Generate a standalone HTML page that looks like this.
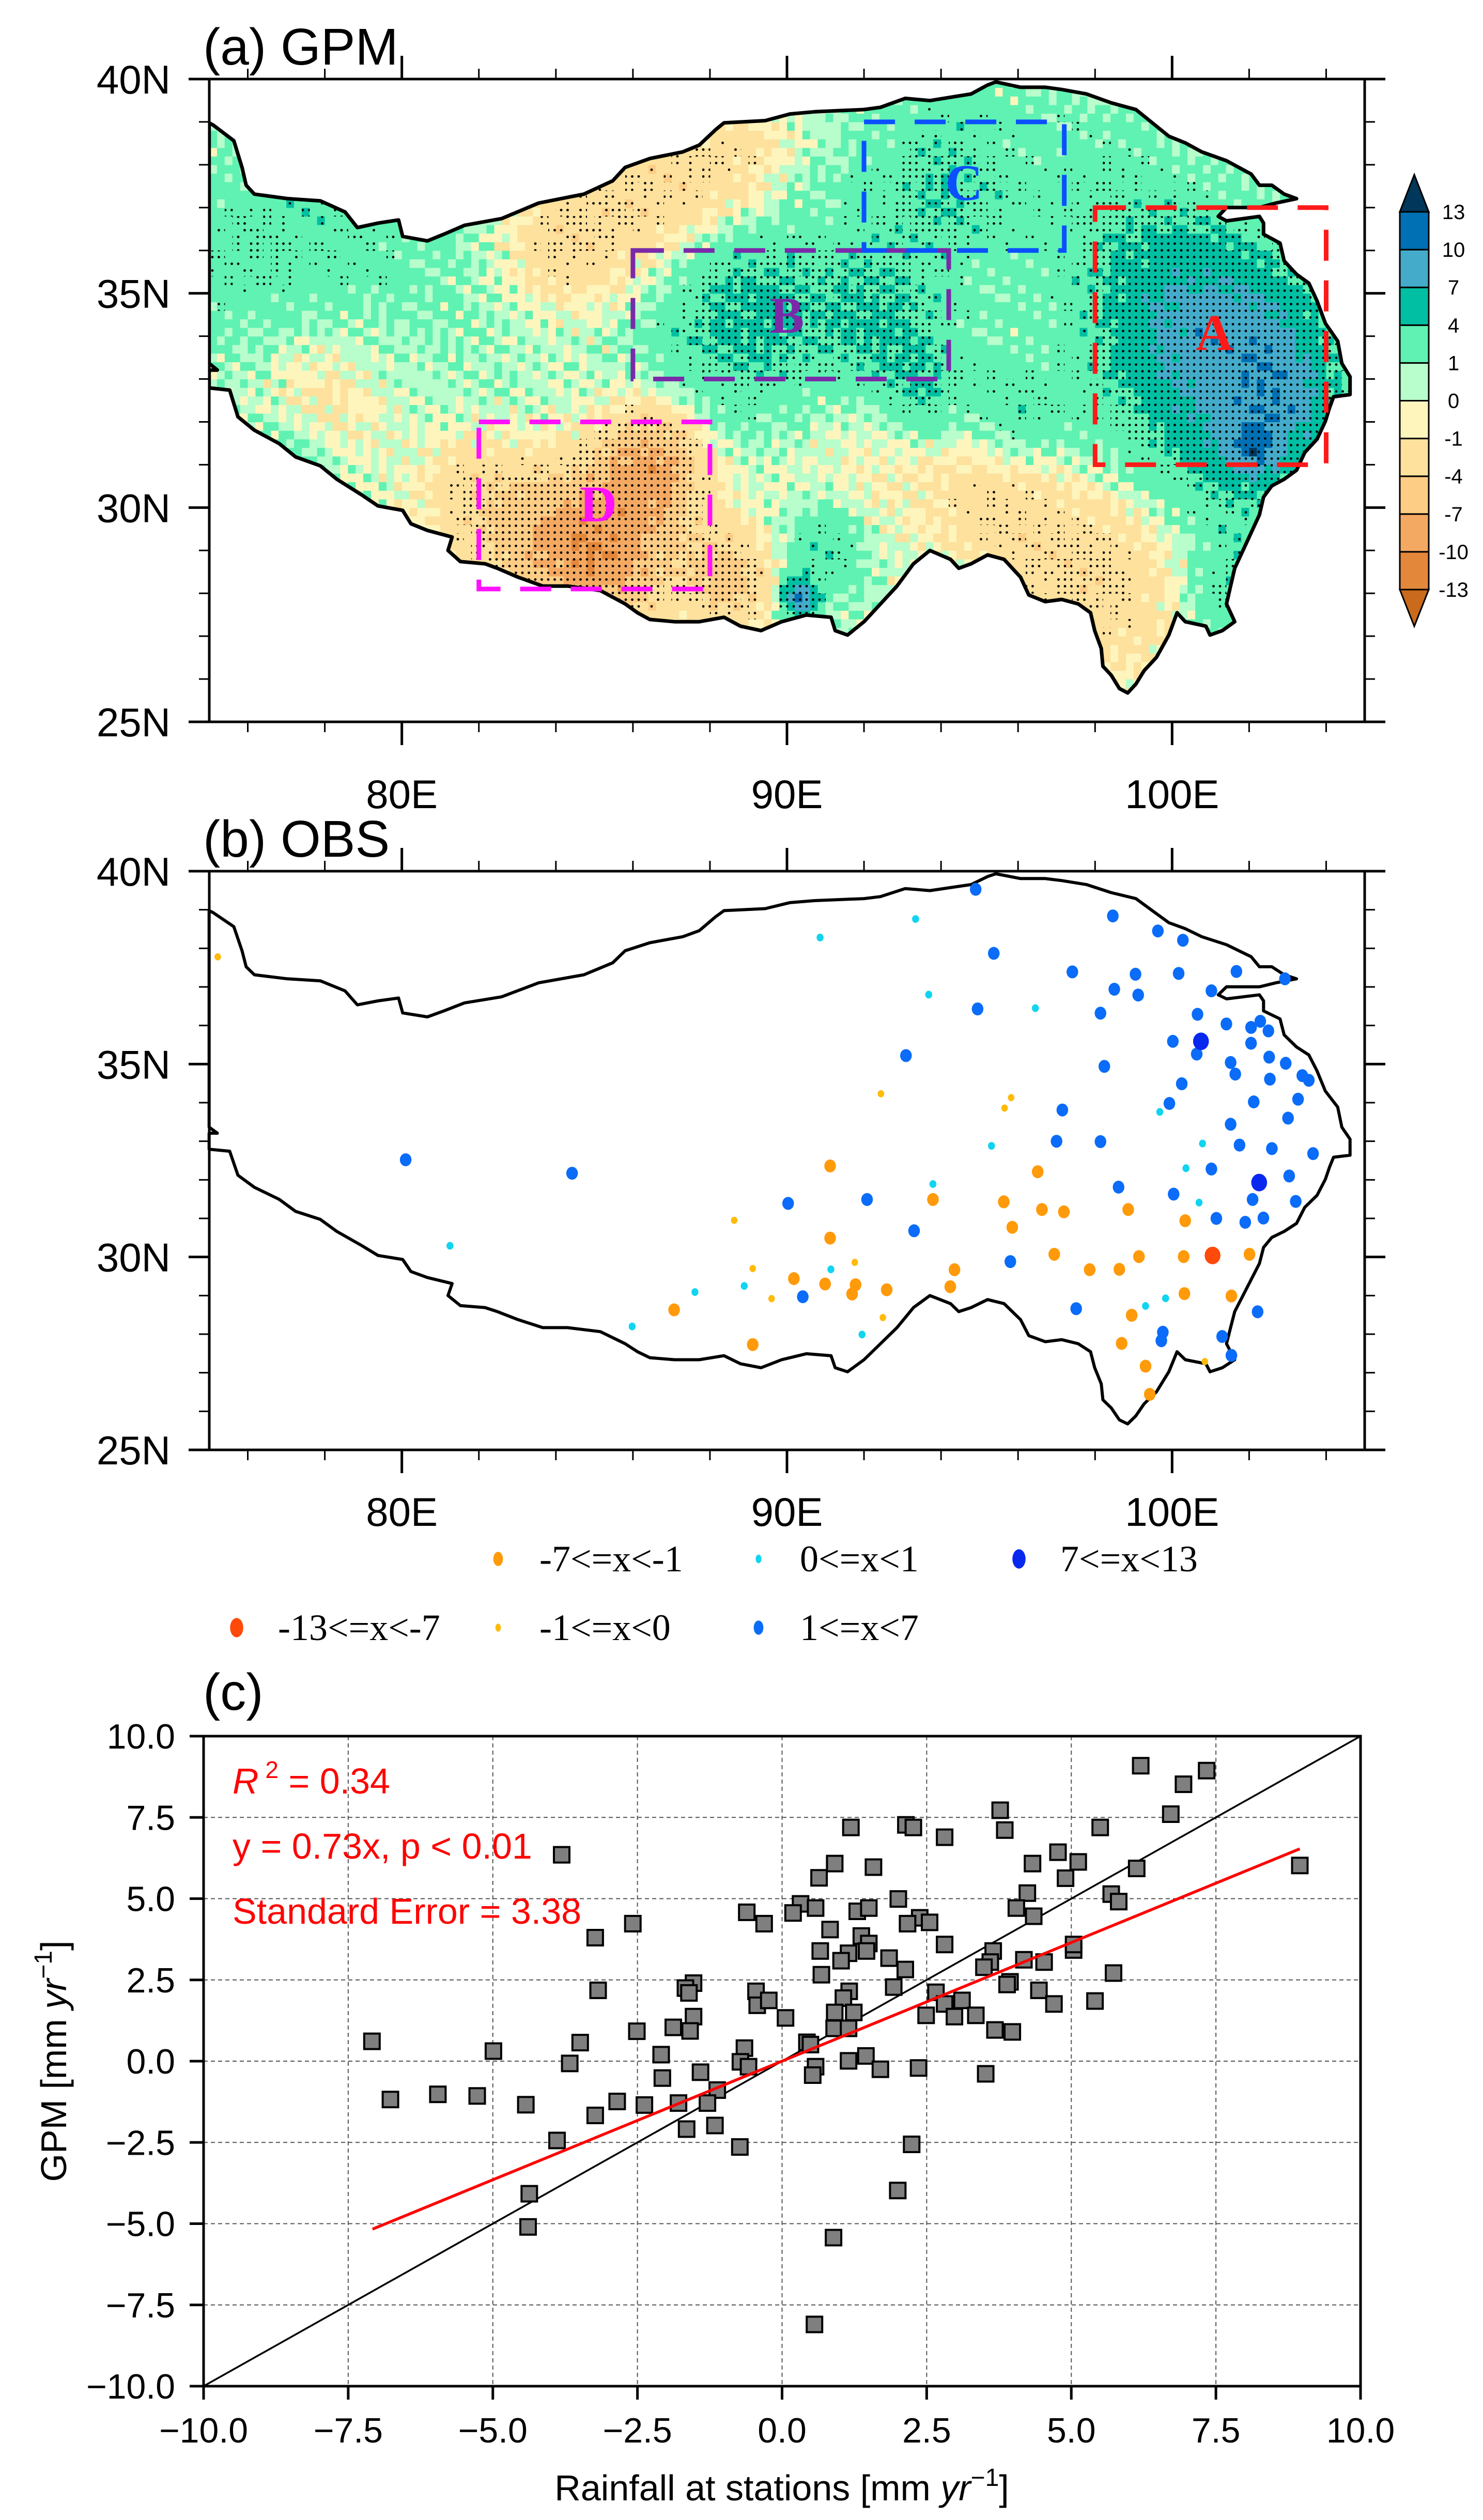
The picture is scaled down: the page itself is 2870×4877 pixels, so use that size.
<!DOCTYPE html>
<html><head><meta charset="utf-8"><title>GPM vs OBS rainfall trends</title>
<style>
html,body{margin:0;padding:0;background:#fff;}
svg{display:block;}
text{font-family:"Liberation Sans",Arial,sans-serif;}
.serif{font-family:"Liberation Serif","Times New Roman",serif;}
</style></head>
<body>
<svg id="fig" xmlns="http://www.w3.org/2000/svg" width="2870" height="4877" viewBox="0 0 2870 4877">
<defs>
<pattern id="stip" patternUnits="userSpaceOnUse" width="12.5" height="13" x="405" y="153"><circle cx="6" cy="6.5" r="2.4" fill="#000"/></pattern>
<clipPath id="clipA"><polygon id="clipPolyA"/></clipPath>
<clipPath id="clipFrameA"><rect x="405" y="153" width="2236" height="1244"/></clipPath>
</defs>
<g id="panelA"></g>
<g id="panelB"></g>
<g id="legendB"></g>
<g id="panelC"></g>
</svg>
<script>
// ---------------- DATA ----------------
const stationRain = [6.2,7.34,6.94,6.72,3.77,3.85,5.5,1.19,2.14,2.27,2.81,-3.81,4.77,4.33,5.12,6.13,8.95,0.91,0.64,1.58,4.9,4.24,5.69,5.82,2.01,0.32,0.19,0.58,-0.61,-0.31,1.3,1.5,4.05,4.35,2.38,2.17,2.55,-2.58,-3.23,0.83,1.37,1.5,1.46,0.66,1.15,1.02,2.81,1.85,2.13,0.68,3.65,3.6,3.49,4.18,4.53,5.04,5.04,5.73,3.94,3.89,4.44,4.7,5.41,-1.53,-1.67,-1.61,-3.18,-0.45,-0.43,-0.23,1.93,1.16,1.06,2.66,2.81,3.11,2.49,2.98,3.35,-1.53,0.06,0.91,1.24,0.9,1.15,-1.88,-1.59,-2.51,3.68,3.98,-3.49,-7.09,-4.99,-2.09,-3.67,-0.65,0.43,0.49,-0.72,-0.58,1.15,1.45,0.58,0.53,1.7,2.36,3.52,-2.07,-1.41,-1.12,-1.29,-1.79,-2.38,-2.85,-6.77,-5.95,-5.27,-4.43,-3.23,-3.89,-1.65,-1.16,-0.73,2.24,2.0,-4.37,-4.39,0.89,0.56];
const gpmTrend = [9.09,8.94,8.52,7.6,7.72,7.11,7.19,7.19,7.27,7.19,6.89,6.35,6.43,6.08,6.13,5.93,6.02,6.08,5.64,5.97,5.63,5.17,5.14,4.91,4.99,4.84,4.56,4.71,4.58,4.23,4.61,4.71,4.71,4.46,4.41,4.23,4.27,4.23,3.8,4.05,3.85,3.62,3.39,3.39,3.32,3.09,3.59,3.17,2.82,2.66,3.39,3.05,2.89,3.12,3.05,3.42,3.59,2.71,2.44,2.36,2.18,1.76,1.85,2.4,2.25,2.1,2.18,2.15,1.72,1.87,2.28,2.15,1.94,2.12,1.76,1.87,1.41,1.37,1.41,1.37,1.33,1.5,1.5,1.01,1.01,1.04,0.93,0.92,0.96,0.9,0.57,0.61,0.31,0.2,-0.07,0.4,0.58,0.51,-0.02,-0.17,0.01,0.16,-0.17,-0.43,-0.25,-0.21,-0.39,-0.52,-0.34,-0.89,-1.29,-1.29,-1.35,-1.24,-1.18,-1.02,-1.07,-1.34,-1.67,-2.44,-2.09,-1.98,-2.64,-2.56,-3.98,-4.08,-5.1,-5.43,-8.1];
const fitSlope = 0.73;
const fitRange = [-7.08, 8.95];
const scatterTicks = [-10,-7.5,-5,-2.5,0,2.5,5,7.5,10];
const scatterTickLabels = ["\u221210.0","\u22127.5","\u22125.0","\u22122.5","0.0","2.5","5.0","7.5","10.0"];

const stationLon = [94.90,98.46,99.63,100.28,95.37,97.41,99.05,100.17,101.67,102.93,98.50,99.12,101.02,94.95,98.14,100.66,101.41,102.05,102.29,102.50,100.02,102.05,100.64,93.09,102.52,101.52,102.95,98.24,101.64,102.54,103.38,103.55,100.25,102.12,103.27,99.93,97.15,103.01,101.52,97.00,98.14,101.75,102.59,103.66,80.10,84.42,101.02,103.04,98.61,100.04,102.09,103.21,90.03,92.08,101.15,102.37,101.90,93.30,95.80,90.41,97.51,102.22,99.76,99.72,101.30,101.54,
 100.75,102.26,
 91.12,96.51,93.79,95.63,96.62,97.19,98.86,100.34,95.85,91.12,96.94,99.14,100.30,102.01,94.35,97.86,98.63,90.18,90.99,91.78,91.69,92.59,94.24,100.32,101.54,87.07,98.95,89.11,98.69,99.31,99.42,
 101.05,
 75.22,92.44,95.82,95.65,88.63,89.11,91.76,89.60,92.49,100.85,
 93.34,90.86,93.68,96.45,99.68,95.31,100.79,100.36,93.79,100.70,81.25,91.14,87.61,88.89,99.83,99.31,85.98,91.95];
const stationLat = [39.53,38.84,38.45,38.21,37.87,37.39,37.33,37.35,37.40,37.21,36.94,36.79,36.90,36.43,36.32,36.29,36.04,35.95,36.11,35.86,35.59,35.54,35.26,35.22,35.18,35.04,35.02,34.94,34.74,34.61,34.70,34.58,34.49,34.02,34.09,33.98,33.81,33.60,33.44,33.00,32.99,32.90,32.81,32.68,32.52,32.17,32.28,32.10,31.81,31.63,31.49,31.44,31.39,31.49,31.00,31.01,30.90,30.68,29.88,28.97,28.66,28.58,28.05,27.83,27.94,27.45,
 35.59,31.93,
 32.36,32.21,31.49,31.43,31.23,31.17,31.23,30.94,30.77,30.49,30.07,30.01,30.01,30.07,29.67,29.67,29.68,29.44,29.30,29.28,29.04,29.15,29.23,29.05,28.99,28.63,28.49,27.73,27.76,27.17,26.44,
 30.04,
 37.78,34.23,34.13,33.86,30.95,29.70,29.86,28.92,28.43,27.29,
 38.76,38.28,36.80,36.45,33.76,32.88,32.94,32.30,31.89,31.41,30.29,29.68,29.09,29.25,28.93,28.73,28.20,27.99];
const stationCat = [4,4,4,4,4,4,4,4,4,4,4,4,4,4,4,4,4,4,4,4,4,4,4,4,4,4,4,4,4,4,4,4,4,4,4,4,4,4,4,4,4,4,4,4,4,4,4,4,4,4,4,4,4,4,4,4,4,4,4,4,4,4,4,4,4,4,
 5,5,
 1,1,1,1,1,1,1,1,1,1,1,1,1,1,1,1,1,1,1,1,1,1,1,1,1,1,1,1,1,1,1,
 0,
 2,2,2,2,2,2,2,2,2,2,
 3,3,3,3,3,3,3,3,3,3,3,3,3,3,3,3,3,3];
const classLabels = ["-13<=x<-7","-7<=x<-1","-1<=x<0","0<=x<1","1<=x<7","7<=x<13"];
const classColors = ["#ff4a0a","#ff9a0a","#ffbb0a","#10d4f0","#0a6cf8","#0828f0"];
const classRadius = [17,12.5,7,7.5,12.5,17];

const levelBounds = [-13,-10,-7,-4,-1,0,1,4,7,10,13];
const levelColors = ["#c96a1c","#e3883b","#f4a962","#fdcd85","#fde19c","#fef5bd","#b8fdcc","#5ff2b2","#00bfa2","#45abca","#0070b4","#00375a"];
const fieldLon = [101,102,100,102.5,89,92.5,94,98,86,88.5,84,85,86.5,83,88.5,86,92,97,99,95,76,80,78,77,90.3,91,101.5,96,103.3,93.5,79,81.5,102.2];
const fieldLat = [33,31.5,35,34,34.5,34.2,37.5,37.5,37,38,36.2,28.8,31,29.5,28.3,30,31.5,29,28,30.3,36,35,32.5,30.8,27.9,29,28,32.3,32.5,32.7,37,30.5,31.3];
const fieldAmp = [5,3.5,3.5,3.5,4.5,3.5,3,1.5,-3.5,-3,-2.5,-8,-6.5,-4,-5.5,-3,-1.5,-3,-2.5,-2,2,0.5,-2,3,11,3,3,2.5,3,3,1.5,-2,5];
const fieldRad = [2.0,1.0,1.5,1.2,1.8,1.2,1.5,1.5,1.5,1.2,1.0,1.2,0.9,1.2,0.8,1.5,2.0,1.5,1.5,1.0,1.5,2.0,1.2,0.8,0.3,0.8,1.0,1.0,0.8,0.8,1.5,1.0,0.35];

const traceX = [65,70,95,105,110,120,160,200,230,245,270,295,300,330,350,375,420,465,520,555,570,600,640,660,680,690,740,770,800,860,880,910,940,990,1010,1020,1050,1080,1100,1130,1160,1190,1210,1230,1250,1270,1300,1330,1340,1355,1370,1385,1360,1340,1300,1290,1300,1340,1345,1345,1365,1370,1385,1400,1410,1420,1435,1440,1450,1450,1430,1425,1420,1410,1395,1385,1370,1355,1345,1340,1330,1320,1310,1305,1300,1310,1295,1280,1275,1250,1240,1230,1215,1200,1190,1180,1170,1160,1150,1148,1140,1135,1120,1100,1080,1060,1050,1030,1010,990,975,965,940,920,900,880,860,840,825,820,790,760,735,710,690,660,630,600,585,570,540,500,470,440,415,400,370,355,360,330,310,300,270,250,220,200,170,150,120,100,95,90,65,65,75,65];
const traceY = [160,165,200,260,300,320,330,335,360,395,385,378,415,425,410,390,375,340,320,290,260,240,225,210,175,160,155,140,135,130,125,105,110,95,75,68,80,80,85,95,115,130,160,190,205,225,245,275,300,300,320,330,340,350,350,370,380,370,385,410,430,470,500,520,560,610,650,700,730,770,775,800,830,870,900,940,960,975,1000,1040,1080,1120,1160,1200,1240,1280,1300,1310,1290,1280,1260,1310,1360,1390,1420,1440,1430,1400,1380,1340,1300,1260,1240,1230,1235,1220,1180,1140,1130,1150,1160,1140,1120,1150,1200,1240,1280,1310,1300,1270,1265,1280,1300,1290,1270,1280,1280,1275,1260,1240,1210,1200,1200,1180,1160,1150,1145,1120,1090,1075,1060,1030,1020,995,960,930,910,880,850,820,790,760,755,715,715,700];
const outlineLon = traceX.map(v => 73.605 + 0.02139 * v);
const outlineLat = traceY.map(v => 40.64 - 0.010393 * v);

// ---------------- HELPERS ----------------
const NS = "http://www.w3.org/2000/svg";
function mk(tag, attrs, parent, txt) {
  const e = document.createElementNS(NS, tag);
  for (const k in attrs) e.setAttribute(k, attrs[k]);
  if (txt !== undefined) e.textContent = txt;
  if (parent) parent.appendChild(e);
  return e;
}
const X0 = 405, X1 = 2641;
const lonX = lon => X0 + (lon - 75) * (X1 - X0) / 30;
const A_TOP = 153, A_BOT = 1397, B_TOP = 1686, B_BOT = 2806;
const latYA = lat => A_TOP + (40 - lat) * (A_BOT - A_TOP) / 15;
const latYB = lat => B_TOP + (40 - lat) * (B_BOT - B_TOP) / 15;

function outlinePoints(latY) {
  return outlineLon.map((lo, i) => lonX(lo).toFixed(1) + "," + latY(outlineLat[i]).toFixed(1)).join(" ");
}

function drawFrame(g, top, bot, latY, title, titleName, labelBaseline) {
  const fr = mk("rect", {x: X0, y: top, width: X1 - X0, height: bot - top, fill: "none", stroke: "#000", "stroke-width": 5}, g);
  
  
  for (let lat = 25; lat <= 40; lat++) {
    const y = latY(lat), major = lat % 5 === 0, L = major ? 40 : 20;
    mk("line", {x1: X0 - L, y1: y, x2: X0, y2: y, stroke: "#000", "stroke-width": major ? 5 : 3}, g);
    mk("line", {x1: X1, y1: y, x2: X1 + L, y2: y, stroke: "#000", "stroke-width": major ? 5 : 3}, g);
    if (major) {
      const t = mk("text", {x: 330, y: y + 28, "text-anchor": "end", "font-size": 78}, g, lat + "N");
      
      
    }
  }
  for (let lon = 76; lon <= 104; lon += 2) {
    const x = lonX(lon), major = lon % 10 === 0, L = major ? 45 : 20;
    mk("line", {x1: x, y1: bot, x2: x, y2: bot + L, stroke: "#000", "stroke-width": major ? 5 : 3}, g);
    mk("line", {x1: x, y1: top - L, x2: x, y2: top, stroke: "#000", "stroke-width": major ? 5 : 3}, g);
    if (major) {
      const t = mk("text", {x: x, y: labelBaseline, "text-anchor": "middle", "font-size": 78}, g, lon + "E");
      
      
    }
  }
  const tt = mk("text", {x: 393, y: top - 28, "font-size": 100}, g, title);
  
  
}

function levelIndex(v) {
  let i = 0;
  while (i < levelBounds.length && v >= levelBounds[i]) i++;
  return i;
}

// ---------------- PANEL A ----------------
(function () {
  const g = document.getElementById("panelA");
  document.getElementById("clipPolyA").setAttribute("points", outlinePoints(latYA));
  const field = mk("g", {"clip-path": "url(#clipA)"}, g);
  
  
  const stip = mk("g", {"clip-path": "url(#clipA)"}, g);
  
  
  const d = 0.2;
  for (let i = 0; i < 150; i++) {
    const lon = 75 + i * d;
    for (let j = 0; j < 73; j++) {
      const lat = 25.4 + j * d;
      const cx = lon + d / 2, cy = lat + d / 2;
      let v = 0.6;
      for (let k = 0; k < fieldLon.length; k++) {
        const dd = ((cx - fieldLon[k]) ** 2 + (cy - fieldLat[k]) ** 2) / (2 * fieldRad[k] ** 2);
        v += fieldAmp[k] * Math.exp(-dd);
      }
      v += 1.1 * Math.sin(cx * 9.3 + cy * 4.1) * Math.cos(cy * 7.7 - cx * 3.3) + 0.6 * Math.sin(cx * 23.1 - cy * 17.3);
      const x = lonX(lon), y = latYA(lat + d), w = lonX(lon + d) - x + 0.6, h = latYA(lat) - y + 0.6;
      mk("rect", {x: x.toFixed(1), y: y.toFixed(1), width: w.toFixed(1), height: h.toFixed(1), fill: levelColors[levelIndex(v)]}, field);
      if (Math.abs(v) > 3.0) mk("rect", {x: x.toFixed(1), y: y.toFixed(1), width: w.toFixed(1), height: h.toFixed(1), fill: "url(#stip)"}, stip);
    }
  }
  const ol = mk("polygon", {points: outlinePoints(latYA), fill: "none", stroke: "#000", "stroke-width": 7, "stroke-linejoin": "round", "clip-path": "url(#clipFrameA)"}, g);
  
  

  const boxes = [
    {n: "A", lo0: 98, lo1: 104, la0: 31, la1: 37, c: "#ff1a1a", lx: 101.1, ly: 34.1},
    {n: "B", lo0: 86, lo1: 94.2, la0: 33, la1: 36, c: "#7a2aa8", lx: 90.0, ly: 34.5},
    {n: "C", lo0: 92, lo1: 97.2, la0: 36, la1: 39, c: "#0a50ff", lx: 94.6, ly: 37.6},
    {n: "D", lo0: 82, lo1: 88, la0: 28.1, la1: 32, c: "#ff10ff", lx: 85.1, ly: 30.1}
  ];
  boxes.forEach(b => {
    const r = mk("rect", {x: lonX(b.lo0), y: latYA(b.la1), width: lonX(b.lo1) - lonX(b.lo0), height: latYA(b.la0) - latYA(b.la1), fill: "none", stroke: b.c, "stroke-width": 9, "stroke-dasharray": "60 38"}, g);
    
    
    const t = mk("text", {x: lonX(b.lx), y: latYA(b.ly) + 35, "text-anchor": "middle", "font-size": 100, "font-weight": "bold", fill: b.c, class: "serif"}, g, b.n);
    
    
  });

  drawFrame(g, A_TOP, A_BOT, latYA, "(a) GPM", "panel-a-title", 1564);

  const cb = mk("g", {}, g);
  
  
  const cbx0 = 2709, cbx1 = 2765, cbTop = 410, cbBot = 1141, nb = levelBounds.length - 1;
  const bh = (cbBot - cbTop) / nb;
  for (let i = 0; i < nb; i++) {
    const y = cbBot - (i + 1) * bh;
    const r = mk("rect", {x: cbx0, y: y, width: cbx1 - cbx0, height: bh, fill: levelColors[i + 1], stroke: "#000", "stroke-width": 3}, cb);
    
    
  }
  const tri1 = mk("polygon", {points: `${cbx0},${cbTop} ${cbx1},${cbTop} ${(cbx0 + cbx1) / 2},338`, fill: levelColors[levelColors.length - 1], stroke: "#000", "stroke-width": 3}, cb);
  
  
  const tri2 = mk("polygon", {points: `${cbx0},${cbBot} ${cbx1},${cbBot} ${(cbx0 + cbx1) / 2},1212`, fill: levelColors[0], stroke: "#000", "stroke-width": 3}, cb);
  
  
  levelBounds.forEach((v, i) => {
    const t = mk("text", {x: 2813, y: cbBot - i * bh + 14, "text-anchor": "middle", "font-size": 40}, cb, String(v));
    
    
  });
})();

// ---------------- PANEL B ----------------
(function () {
  const g = document.getElementById("panelB");
  const ol = mk("polygon", {points: outlinePoints(latYB), fill: "none", stroke: "#000", "stroke-width": 6, "stroke-linejoin": "round"}, g);
  
  
  for (let i = 0; i < stationLon.length; i++) {
    const c = stationCat[i];
    const dot = mk("ellipse", {cx: lonX(stationLon[i]).toFixed(1), cy: latYB(stationLat[i]).toFixed(1), rx: classRadius[c] * 0.9, ry: classRadius[c], fill: classColors[c]}, g);
    
    
  }
  drawFrame(g, B_TOP, B_BOT, latYB, "(b) OBS", "panel-b-title", 2953);

  const lg = document.getElementById("legendB");
  const order = [1, 3, 5, 0, 2, 4];
  const colX = [964, 1468, 1972];
  const colXrow2 = [458, 964, 1468];
  order.forEach((c, k) => {
    const row = k < 3 ? 0 : 1, col = k % 3;
    const mx = row === 0 ? colX[col] : colXrow2[col];
    const my = row === 0 ? 3017 : 3150;
    const e = mk("g", {}, lg);
    
    
    mk("ellipse", {cx: mx, cy: my, rx: classRadius[c] * 0.75, ry: classRadius[c] * 1.1, fill: classColors[c]}, e);
    mk("text", {x: mx + 80, y: my + 24, "font-size": 72, class: "serif"}, e, classLabels[c]);
  });
})();

// ---------------- PANEL C ----------------
(function () {
  const g = document.getElementById("panelC");
  const L = 394, R = 2633, T = 3360, B = 4618;
  const sx = v => L + (v + 10) * (R - L) / 20;
  const sy = v => B - (v + 10) * (B - T) / 20;
  scatterTicks.forEach((v, i) => {
    if (i > 0 && i < scatterTicks.length - 1) {
      const gl = mk("line", {x1: sx(v), y1: T, x2: sx(v), y2: B, stroke: "#555", "stroke-width": 2, "stroke-dasharray": "8 6"}, g);
      
      
      const gh = mk("line", {x1: L, y1: sy(v), x2: R, y2: sy(v), stroke: "#555", "stroke-width": 2, "stroke-dasharray": "8 6"}, g);
      
      
    }
  });
  const one = mk("line", {x1: sx(-10), y1: sy(-10), x2: sx(10), y2: sy(10), stroke: "#000", "stroke-width": 3.5}, g);
  
  
  for (let i = 0; i < stationRain.length; i++) {
    const s = 30;
    const p = mk("rect", {x: (sx(stationRain[i]) - s / 2).toFixed(1), y: (sy(gpmTrend[i]) - s / 2).toFixed(1), width: s, height: s, fill: "#7f7f7f", stroke: "#000", "stroke-width": 4}, g);
    
    
  }
  const fit = mk("line", {x1: sx(fitRange[0]), y1: sy(fitSlope * fitRange[0]), x2: sx(fitRange[1]), y2: sy(fitSlope * fitRange[1]), stroke: "#ff0000", "stroke-width": 5.5}, g);
  
  
  const fr = mk("rect", {x: L, y: T, width: R - L, height: B - T, fill: "none", stroke: "#000", "stroke-width": 5}, g);
  
  
  scatterTicks.forEach((v, i) => {
    mk("line", {x1: sx(v), y1: B, x2: sx(v), y2: B + 26, stroke: "#000", "stroke-width": 5}, g);
    mk("line", {x1: L - 27, y1: sy(v), x2: L, y2: sy(v), stroke: "#000", "stroke-width": 5}, g);
    const xl = mk("text", {x: sx(v), y: 4727, "text-anchor": "middle", "font-size": 68}, g, scatterTickLabels[i]);
    
    
    const yl = mk("text", {x: 339, y: sy(v) + 24, "text-anchor": "end", "font-size": 68}, g, scatterTickLabels[i]);
    
    
  });
  const ct = mk("text", {x: 393, y: 3309, "font-size": 100}, g, "(c)");
  
  
  const r2 = mk("text", {x: 450, y: 3471, "font-size": 70, fill: "#ff0000"}, g);
  
  
  mk("tspan", {"font-style": "italic"}, r2, "R");
  mk("tspan", {dy: -30, "font-size": 46}, r2, " 2");
  mk("tspan", {dy: 30}, r2, " = 0.34");
  const eq = mk("text", {x: 450, y: 3597, "font-size": 70, fill: "#ff0000"}, g, "y = 0.73x, p < 0.01");
  
  
  const se = mk("text", {x: 450, y: 3723, "font-size": 70, fill: "#ff0000"}, g, "Standard Error = 3.38");
  
  
  const xt = mk("text", {x: 1513, y: 4839, "text-anchor": "middle", "font-size": 70}, g);
  
  
  mk("tspan", {}, xt, "Rainfall at stations [mm ");
  mk("tspan", {"font-style": "italic"}, xt, "yr");
  mk("tspan", {dy: -28, "font-size": 48}, xt, "\u22121");
  mk("tspan", {dy: 28}, xt, "]");
  const yt = mk("text", {x: 0, y: 0, "text-anchor": "middle", "font-size": 70, transform: `translate(128,${(T + B) / 2}) rotate(-90)`}, g);
  
  
  mk("tspan", {}, yt, "GPM [mm ");
  mk("tspan", {"font-style": "italic"}, yt, "yr");
  mk("tspan", {dy: -28, "font-size": 48}, yt, "\u22121");
  mk("tspan", {dy: 28}, yt, "]");
})();
</script>
</body></html>
